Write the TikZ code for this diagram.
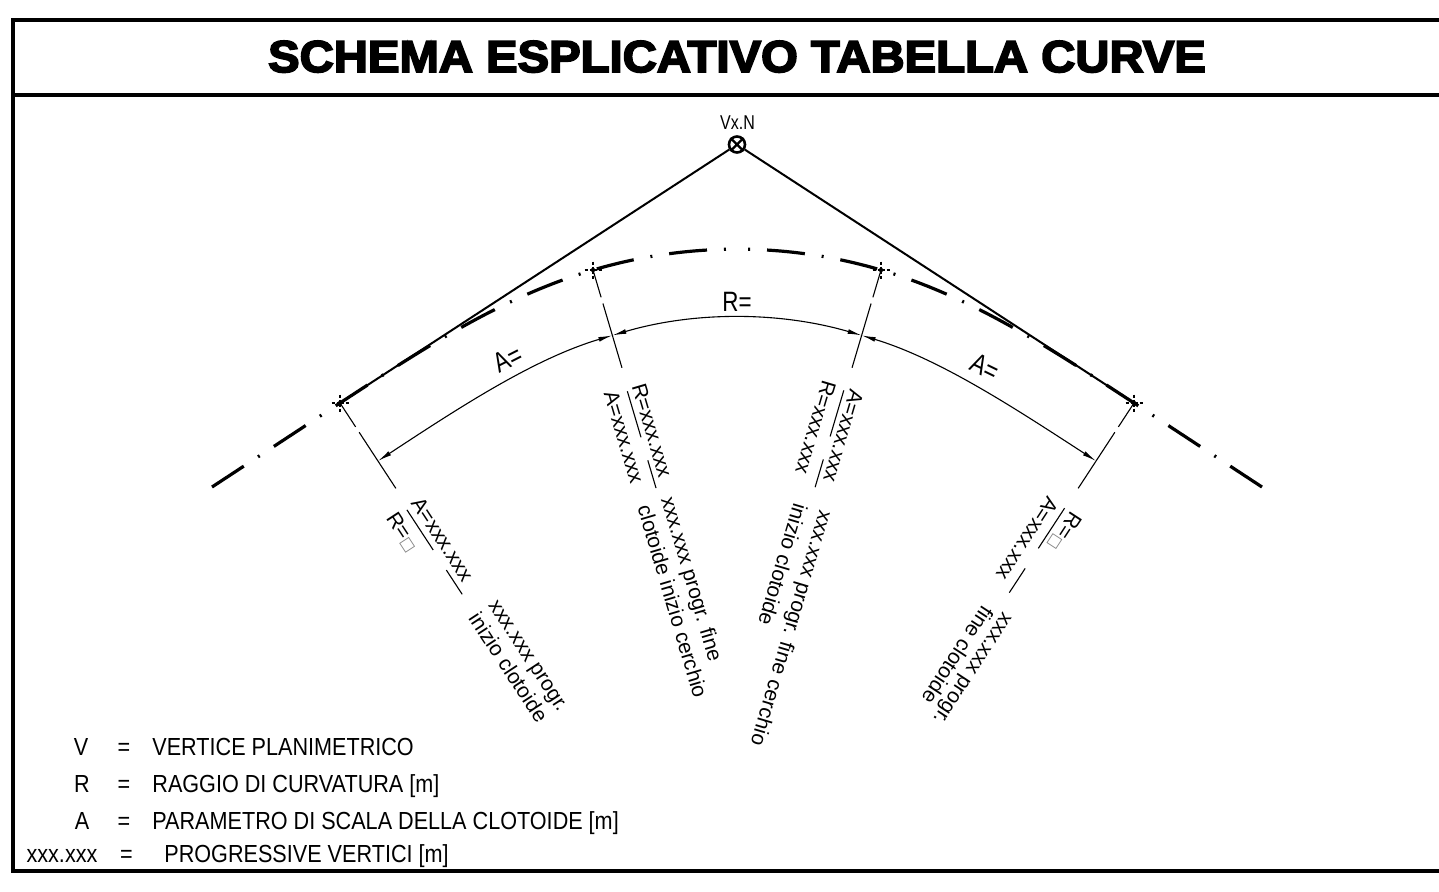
\documentclass[tikz,border=0pt]{standalone}
\usepackage{fontspec}
\setmainfont{Liberation Sans}
\newfontfamily\titlefam[BoldFeatures={FakeBold=4,FakeStretch=1.06}]{Liberation Sans}
\newfontfamily\condfam[FakeStretch=0.875]{Liberation Sans}
\newfontfamily\narrowfam[FakeStretch=0.8]{Liberation Sans}
\newfontfamily\symfam{DejaVu Sans}
\usetikzlibrary{arrows.meta}
\newcommand\sqbox{{\symfam\fontsize{7.5pt}{9pt}\selectfont\textcolor{gray}{□}}}
\tikzset{
  frame/.style={line width=2pt},
  tline/.style={line width=1pt},
  axisline/.style={line width=1.6pt, dash pattern=on 19pt off 8.5pt on 1pt off 8.5pt},
  dim/.style={line width=0.55pt},
  arr/.style={{Latex[length=7pt,width=2.4pt]}-{Latex[length=7pt,width=2.4pt]}},
  lbl/.style={inner sep=0pt, anchor=base west, font=\fontsize{10.5pt}{12.6pt}\selectfont},
  dimtxt/.style={inner sep=0pt, font=\narrowfam\fontsize{14pt}{16pt}\selectfont},
  leg/.style={inner sep=0pt, anchor=base west, font=\condfam\fontsize{12.35pt}{14pt}\selectfont},
  legc/.style={leg, anchor=base},
  cmark/.pic={
    \draw[line width=1.1pt] (-8.5,0)--(-5.5,0) (-3.5,0)--(3.5,0) (5.5,0)--(8.5,0)
                            (0,-8.5)--(0,-5.5) (0,-3.5)--(0,3.5) (0,5.5)--(0,8.5);
    \fill (0,0) circle (1.1pt);
  }
}
\begin{document}
\begin{tikzpicture}[x=0.5pt,y=-0.5pt]
\useasboundingbox (0,0) rectangle (1439,891);
\fill[white] (0,0) rectangle (1439,891);

% frame
\draw[frame] (1450,20) -- (13,20) -- (13,871) -- (1450,871);
\draw[frame] (13,95) -- (1450,95);
\node[font=\titlefam\bfseries\fontsize{22.3pt}{26pt}\selectfont, anchor=base, inner sep=0pt] (title) at (737,72) {SCHEMA ESPLICATIVO TABELLA CURVE};

% main points
\coordinate (TS) at (340,403);
\coordinate (SC) at (593,270);
\coordinate (CS) at (881,270);
\coordinate (ST) at (1134,403);
\coordinate (La) at (212,487);
\coordinate (Ra) at (1262,487);
\coordinate (Top) at (737,249.15);

% vertex
\node[draw, circle, line width=1.3pt, minimum size=8pt, inner sep=0pt] (V) at (737,144.5) {};
\draw[line width=1.2pt] (V.north west) -- (V.south east) (V.north east) -- (V.south west);
\node[font=\narrowfam\fontsize{10pt}{12pt}\selectfont, inner sep=0pt, anchor=base] (vxn) at (737.5,129.3) {Vx.N};

% tangents
\draw[tline] (V) -- (TS);
\draw[tline] (V) -- (ST);

% road axis (two halves, each starting from its outer end)
\draw[axisline] (La) -- (TS) .. controls (424.7,347.6) and (502,296.9) .. (SC)
   .. controls (640,256.1) and (688.5,249.15) .. (Top);
\draw[axisline] (Ra) -- (ST) .. controls (1049.3,347.6) and (972,296.9) .. (CS)
   .. controls (834,256.1) and (785.5,249.15) .. (Top);

% markers
\pic at (TS) {cmark};
\pic at (SC) {cmark};
\pic at (CS) {cmark};
\pic at (ST) {cmark};

% group TS
\begin{scope}[shift={(TS)}, rotate=-56.8]
  \coordinate (TSd) at (69.3,0); \coordinate (TSe) at (102,0);
  \coordinate (TSg1) at (28.5,0); \coordinate (TSg2) at (35,0);
  \draw[dim] (TS) -- (TSg1) (TSg2) -- (TSe);
  \draw[dim] (126,2.5) -- (174,2.5) (198,2.5) -- (227,2.5);
  \node[lbl, rotate=-56.8] (g1u) at (122,-4) {A=xxx.xxx};
  \node[lbl, rotate=-56.8] (g1l) at (121,25) {R=\sqbox};
  \node[lbl, rotate=-56.8] (g1a) at (250,-13) {xxx.xxx progr.};
  \node[lbl, rotate=-56.8] (g1b) at (250,11) {inizio clotoide};
\end{scope}

% group SC
\begin{scope}[shift={(SC)}, rotate=-73.5]
  \coordinate (SCd) at (68.2,0); \coordinate (SCe) at (102,0);
  \coordinate (SCg1) at (28.5,0); \coordinate (SCg2) at (35,0);
  \draw[dim] (SC) -- (SCg1) (SCg2) -- (SCe);
  \draw[dim] (126,1.5) -- (174,1.5) (198,1.5) -- (227,1.5);
  \node[lbl, rotate=-73.5] (g2u) at (122,-4) {R=xxx.xxx};
  \node[lbl, rotate=-73.5] (g2l) at (121,25) {A=xxx.xxx};
  \node[lbl, rotate=-73.5] (g2a) at (239,0) {xxx.xxx progr. fine};
  \node[lbl, rotate=-73.5] (g2b) at (240,25) {clotoide inizio cerchio};
\end{scope}

% group CS
\begin{scope}[shift={(CS)}, rotate=-106.5]
  \coordinate (CSd) at (68.2,0); \coordinate (CSe) at (102,0);
  \coordinate (CSg1) at (28.5,0); \coordinate (CSg2) at (35,0);
  \draw[dim] (CS) -- (CSg1) (CSg2) -- (CSe);
  \draw[dim] (126,1.5) -- (174,1.5) (198,1.5) -- (227,1.5);
  \node[lbl, rotate=-106.5] (g3u) at (122,-4) {A=xxx.xxx};
  \node[lbl, rotate=-106.5] (g3l) at (121,25) {R=xxx.xxx};
  \node[lbl, rotate=-106.5] (g3a) at (247,-9.3) {xxx.xxx progr. fine cerchio};
  \node[lbl, rotate=-106.5] (g3b) at (247,17.7) {inizio clotoide};
\end{scope}

% group ST
\begin{scope}[shift={(ST)}, rotate=-123.2]
  \coordinate (STd) at (69.3,0); \coordinate (STe) at (102,0);
  \coordinate (STg1) at (28.5,0); \coordinate (STg2) at (35,0);
  \draw[dim] (ST) -- (STg1) (STg2) -- (STe);
  \draw[dim] (126,0.5) -- (174,0.5) (198,0.5) -- (227,0.5);
  \node[lbl, rotate=-123.2] (g4u) at (124,-6) {R=\sqbox};
  \node[lbl, rotate=-123.2] (g4l) at (124,22) {A=xxx.xxx};
  \node[lbl, rotate=-123.2] (g4a) at (246,-4.6) {xxx.xxx progr.};
  \node[lbl, rotate=-123.2] (g4b) at (251,16.7) {fine clotoide};
\end{scope}

% dimension lines
\draw[dim, arr] (TSd) .. controls (459.1,407.6) and (533.8,358.7) .. (SCd);
\draw[dim, arr] (SCd) .. controls (693.7,311.3) and (779.3,311.3) .. (CSd);
\draw[dim, arr] (CSd) .. controls (939.2,358.7) and (1013.9,407.6) .. (STd);

\node[dimtxt, rotate=27] (dA1) at (508,359) {A=};
\node[dimtxt, anchor=base] (dR) at (737,311) {R=};
\node[dimtxt, rotate=-26] (dA2) at (985,367) {A=};

% legend
\node[legc] (l1s) at (81,755) {V};
\node[legc] (l1e) at (124,755) {=};
\node[leg]  (l1t) at (152,755) {VERTICE PLANIMETRICO};
\node[legc] (l2s) at (82,792) {R};
\node[legc] (l2e) at (124,792) {=};
\node[leg]  (l2t) at (152,792) {RAGGIO DI CURVATURA [m]};
\node[legc] (l3s) at (82,829) {A};
\node[legc] (l3e) at (124,829) {=};
\node[leg]  (l3t) at (152,829) {PARAMETRO DI SCALA DELLA CLOTOIDE [m]};
\node[legc] (l4s) at (62,862) {xxx.xxx};
\node[legc] (l4e) at (126.5,862) {=};
\node[leg]  (l4t) at (164,862) {PROGRESSIVE VERTICI [m]};
\end{tikzpicture}
\end{document}
